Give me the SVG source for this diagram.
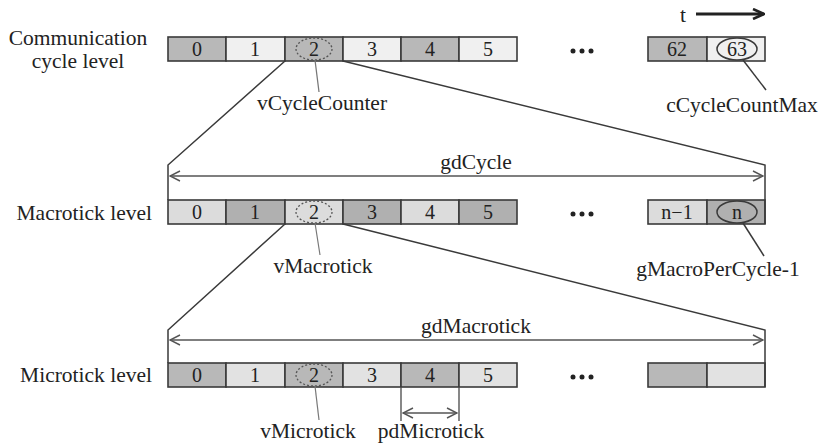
<svg xmlns="http://www.w3.org/2000/svg" width="828" height="447" viewBox="0 0 828 447">
<defs>
<style>
text{font-family:"Liberation Serif","DejaVu Serif",serif;fill:#222}
.lbl{font-size:21.5px}
.num{font-size:20px;text-anchor:middle}
.cell{stroke:#3a3a3a;stroke-width:1.6}
.d1{fill:#b8b8b8}.l1{fill:#f0f0f0}
.d2{fill:#b0b0b0}.l2{fill:#dcdcdc}
.d3{fill:#b8b8b8}.l3{fill:#e2e2e2}
.ln{stroke:#3a3a3a;stroke-width:1.5;fill:none}
.thin{stroke:#777;stroke-width:1.2;fill:none}
.dash{stroke:#555;stroke-width:1.3;stroke-dasharray:2 2;fill:none}
.dim{stroke:#555;stroke-width:1.4;fill:none}
.dots{fill:#222}
</style>
<marker id="oa" viewBox="0 0 12 12" refX="11" refY="6" markerWidth="12" markerHeight="12" markerUnits="userSpaceOnUse" orient="auto-start-reverse">
<path d="M1,1 L11,6 L1,11" fill="none" stroke="#555" stroke-width="1.4"/>
</marker>
<marker id="ta" viewBox="0 0 14 12" refX="13" refY="6" markerWidth="14" markerHeight="12" markerUnits="userSpaceOnUse" orient="auto">
<path d="M2,1 L13,6 L2,11" fill="none" stroke="#222" stroke-width="2.6"/>
</marker>
</defs>
<rect width="828" height="447" fill="#fff"/>

<g id="labels">
<text class="lbl" x="78" y="45" text-anchor="middle">Communication</text>
<text class="lbl" x="78" y="68" text-anchor="middle">cycle level</text>
<text class="lbl" x="152" y="220" text-anchor="end">Macrotick level</text>
<text class="lbl" x="152" y="382" text-anchor="end">Microtick level</text>
</g>

<g id="time">
<text class="lbl" x="683" y="22" text-anchor="middle">t</text>
<line x1="696" y1="14" x2="764" y2="14" stroke="#222" stroke-width="3" marker-end="url(#ta)"/>
</g>

<g id="row-cycle">
<rect class="cell d1" x="168" y="37" width="58" height="24"/>
<rect class="cell l1" x="226" y="37" width="59" height="24"/>
<rect class="cell d1" x="285" y="37" width="58" height="24"/>
<rect class="cell l1" x="343" y="37" width="58" height="24"/>
<rect class="cell d1" x="401" y="37" width="58" height="24"/>
<rect class="cell l1" x="459" y="37" width="58" height="24"/>
<text class="num" x="197" y="56">0</text>
<text class="num" x="255" y="56">1</text>
<text class="num" x="314" y="56">2</text>
<text class="num" x="372" y="56">3</text>
<text class="num" x="430" y="56">4</text>
<text class="num" x="488" y="56">5</text>
<circle class="dots" cx="573" cy="51" r="2.5"/><circle class="dots" cx="582" cy="51" r="2.5"/><circle class="dots" cx="591" cy="51" r="2.5"/>
<rect class="cell d1" x="648" y="37" width="59" height="24"/>
<rect class="cell l1" x="707" y="37" width="58" height="24"/>
<text class="num" x="677" y="56">62</text>
<text class="num" x="737" y="56">63</text>
</g>

<g id="row-macro">
<rect class="cell l2" x="168" y="200" width="58" height="24"/>
<rect class="cell d2" x="226" y="200" width="59" height="24"/>
<rect class="cell l2" x="285" y="200" width="58" height="24"/>
<rect class="cell d2" x="343" y="200" width="58" height="24"/>
<rect class="cell l2" x="401" y="200" width="58" height="24"/>
<rect class="cell d2" x="459" y="200" width="58" height="24"/>
<text class="num" x="197" y="219">0</text>
<text class="num" x="255" y="219">1</text>
<text class="num" x="314" y="219">2</text>
<text class="num" x="372" y="219">3</text>
<text class="num" x="430" y="219">4</text>
<text class="num" x="488" y="219">5</text>
<circle class="dots" cx="573" cy="214" r="2.5"/><circle class="dots" cx="582" cy="214" r="2.5"/><circle class="dots" cx="591" cy="214" r="2.5"/>
<rect class="cell l2" x="648" y="200" width="59" height="24"/>
<rect class="cell d2" x="707" y="200" width="58" height="24"/>
<text class="num" x="677" y="219">n−1</text>
<text class="num" x="737" y="219">n</text>
</g>

<g id="row-micro">
<rect class="cell d3" x="168" y="363" width="58" height="24"/>
<rect class="cell l3" x="226" y="363" width="59" height="24"/>
<rect class="cell d3" x="285" y="363" width="58" height="24"/>
<rect class="cell l3" x="343" y="363" width="58" height="24"/>
<rect class="cell d3" x="401" y="363" width="58" height="24"/>
<rect class="cell l3" x="459" y="363" width="58" height="24"/>
<text class="num" x="197" y="382">0</text>
<text class="num" x="255" y="382">1</text>
<text class="num" x="314" y="382">2</text>
<text class="num" x="372" y="382">3</text>
<text class="num" x="430" y="382">4</text>
<text class="num" x="488" y="382">5</text>
<circle class="dots" cx="573" cy="377" r="2.5"/><circle class="dots" cx="582" cy="377" r="2.5"/><circle class="dots" cx="591" cy="377" r="2.5"/>
<rect class="cell d3" x="648" y="363" width="59" height="24"/>
<rect class="cell l3" x="707" y="363" width="58" height="24"/>
</g>

<g id="connectors">
<polyline class="ln" points="285,61 168,165 168,200"/>
<polyline class="ln" points="343,61 765,165 765,224"/>
<polyline class="ln" points="285,224 168,330 168,363"/>
<polyline class="ln" points="343,224 765,330 765,387"/>
<line class="dim" x1="170" y1="176" x2="763" y2="176" marker-start="url(#oa)" marker-end="url(#oa)"/>
<line class="dim" x1="170" y1="340" x2="763" y2="340" marker-start="url(#oa)" marker-end="url(#oa)"/>
<line class="dim" x1="401" y1="387" x2="401" y2="421"/>
<line class="dim" x1="459" y1="387" x2="459" y2="421"/>
<line class="dim" x1="403" y1="413" x2="457" y2="413" marker-start="url(#oa)" marker-end="url(#oa)"/>
<ellipse class="dash" cx="314" cy="49" rx="18" ry="11"/>
<ellipse class="dash" cx="314" cy="212" rx="18" ry="11"/>
<ellipse class="dash" cx="314" cy="375" rx="18" ry="11"/>
<ellipse class="ln" cx="737" cy="49" rx="20" ry="11"/>
<ellipse class="ln" cx="737" cy="212" rx="20" ry="11"/>
<line class="thin" x1="315" y1="60" x2="319" y2="92"/>
<line class="thin" x1="315" y1="223" x2="320" y2="255"/>
<line class="thin" x1="315" y1="386" x2="319" y2="420"/>
<line class="ln" x1="743" y1="60" x2="766" y2="90"/>
<line class="ln" x1="743" y1="223" x2="764" y2="256"/>
</g>

<g id="annotations">
<text class="lbl" x="322" y="110" text-anchor="middle">vCycleCounter</text>
<text class="lbl" x="742" y="112" text-anchor="middle">cCycleCountMax</text>
<text class="lbl" x="476" y="169" text-anchor="middle">gdCycle</text>
<text class="lbl" x="323" y="273" text-anchor="middle">vMacrotick</text>
<text class="lbl" x="718" y="276" text-anchor="middle">gMacroPerCycle-1</text>
<text class="lbl" x="476" y="333" text-anchor="middle">gdMacrotick</text>
<text class="lbl" x="308" y="438" text-anchor="middle">vMicrotick</text>
<text class="lbl" x="431" y="438" text-anchor="middle">pdMicrotick</text>
</g>
</svg>
